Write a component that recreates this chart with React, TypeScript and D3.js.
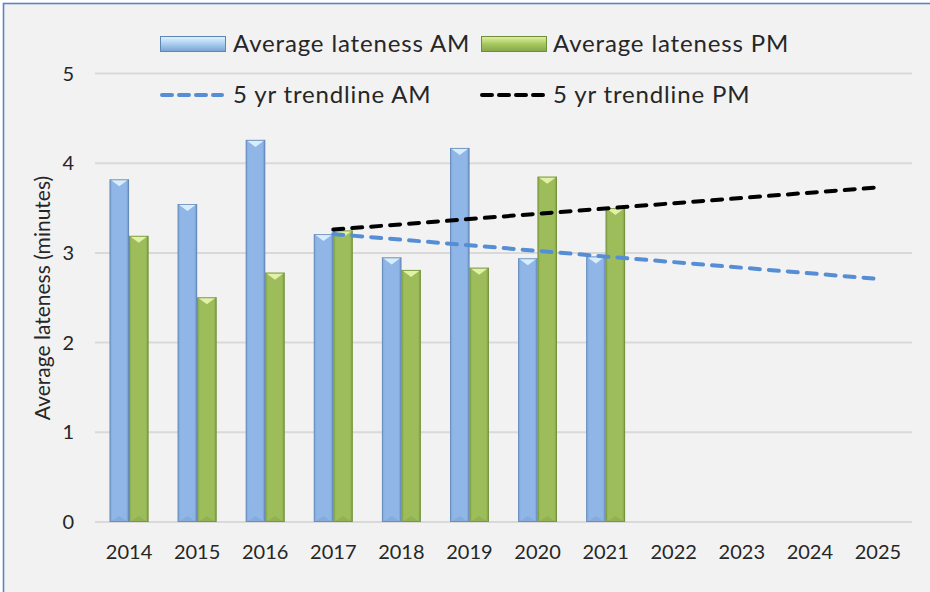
import React from 'react';
import * as d3 from 'd3';

const years = ['2014', '2015', '2016', '2017', '2018', '2019', '2020', '2021', '2022', '2023', '2024', '2025'];
const amValues = [3.82, 3.545, 4.26, 3.21, 2.95, 4.17, 2.94, 2.96];
const pmValues = [3.19, 2.505, 2.78, 3.25, 2.81, 2.835, 3.85, 3.5];
const trendYears = ['2017', '2025'];
const trendAM = [3.21, 2.71];
const trendPM = [3.26, 3.73];
const yTicks = [0, 1, 2, 3, 4, 5];
const seriesNames = ['Average lateness AM', 'Average lateness PM'];
const trendNames = ['5 yr trendline AM', '5 yr trendline PM'];
const yTitle = 'Average lateness (minutes)';

const W = 930;
const H = 592;
const FONT = 'Lato, "Open Sans", sans-serif';
const TEXT = '#262626';
const LEG_SIZE = 24;
const LEG_SPACING = 0.85;

export default function App() {
  const left = 95;
  const right = 912;
  const x0 = d3
    .scaleBand<string>()
    .domain(years)
    .range([left, right])
    .paddingInner(1.5 / 3.5)
    .paddingOuter(0.75 / 3.5);
  const x1 = d3.scaleBand<string>().domain(['AM', 'PM']).range([0, x0.bandwidth()]);
  const y = d3.scaleLinear().domain([0, 5]).range([522, 73.5]);

  const line = d3
    .line<[string, number]>()
    .x((d) => (x0(d[0]) as number) + x0.bandwidth() / 2)
    .y((d) => y(d[1]));

  const bars: { key: string; x: number; v: number; kind: 'AM' | 'PM' }[] = [];
  amValues.forEach((v, i) => bars.push({ key: 'a' + i, x: (x0(years[i]) as number) + (x1('AM') as number), v, kind: 'AM' }));
  pmValues.forEach((v, i) => bars.push({ key: 'p' + i, x: (x0(years[i]) as number) + (x1('PM') as number), v, kind: 'PM' }));
  const bw = x1.bandwidth();

  const renderBar = (b: { key: string; x: number; v: number; kind: 'AM' | 'PM' }) => {
    const top = y(b.v);
    const bottom = y(0);
    const isAM = b.kind === 'AM';
    const tri = isAM ? '#d9eefc' : '#e2f1a8';
    const edge = isAM ? '#5f85b5' : '#6f8c39';
    return (
      <g key={b.key}>
        <rect x={b.x} y={top} width={bw} height={bottom - top} fill={`url(#${isAM ? 'gAM' : 'gPM'})`} />
        <polygon
          points={`${b.x + 1},${top + 0.5} ${b.x + bw - 1},${top + 0.5} ${b.x + bw / 2},${top + 7}`}
          fill={tri}
        />
        <polygon
          points={`${b.x + 1},${bottom} ${b.x + bw - 1},${bottom} ${b.x + bw / 2},${bottom - 6}`}
          fill={isAM ? '#7ea3d2' : '#8aa94d'}
          opacity={0.6}
        />
        <rect x={b.x + 0.5} y={top + 0.5} width={bw - 1} height={bottom - top - 1} fill="none" stroke={edge} strokeWidth={1} opacity={0.7} />
      </g>
    );
  };

  return (
    <svg width={W} height={H} style={{ position: 'absolute', left: 0, top: 0, background: '#fff' }}>
      <defs>
        <linearGradient id="gAM" x1="0" x2="1" y1="0" y2="0">
          <stop offset="0" stopColor="#7ca3d3" />
          <stop offset="0.15" stopColor="#8fb6e6" />
          <stop offset="0.85" stopColor="#8fb6e6" />
          <stop offset="1" stopColor="#6d93c4" />
        </linearGradient>
        <linearGradient id="gPM" x1="0" x2="1" y1="0" y2="0">
          <stop offset="0" stopColor="#8cab50" />
          <stop offset="0.15" stopColor="#9dbd5b" />
          <stop offset="0.85" stopColor="#9dbd5b" />
          <stop offset="1" stopColor="#7f9d45" />
        </linearGradient>
        <linearGradient id="lAM" x1="0" x2="0" y1="0" y2="1">
          <stop offset="0" stopColor="#e3f3fd" />
          <stop offset="0.5" stopColor="#a9cdf0" />
          <stop offset="1" stopColor="#7aa2d2" />
        </linearGradient>
        <linearGradient id="lPM" x1="0" x2="0" y1="0" y2="1">
          <stop offset="0" stopColor="#e2f2a6" />
          <stop offset="0.5" stopColor="#a6c85e" />
          <stop offset="1" stopColor="#86a64a" />
        </linearGradient>
      </defs>
      <rect x={3.5} y={3.5} width={W + 10} height={H + 10} fill="#f2f2f2" stroke="#5a85c2" strokeWidth={1.6} />

      {/* gridlines */}
      {yTicks.map((t) => (
        <line key={t} x1={left} x2={right} y1={y(t)} y2={y(t)} stroke="#d9d9d9" strokeWidth={2} />
      ))}
      {/* y tick labels */}
      {yTicks.map((t) => (
        <text key={'yl' + t} x={74} y={y(t)} dy="0.35em" textAnchor="end" fontFamily={FONT} fontSize={20} fill={TEXT}>
          {t}
        </text>
      ))}
      {/* y title */}
      <text
        transform={`translate(43,${298}) rotate(-90)`}
        textAnchor="middle"
        dy="0.35em"
        fontFamily={FONT}
        fontSize={21}
        fill={TEXT}
      >
        {yTitle}
      </text>
      {/* x labels */}
      {years.map((yr) => (
        <text
          key={'xl' + yr}
          x={(x0(yr) as number) + x0.bandwidth() / 2}
          y={552}
          dy="0.35em"
          textAnchor="middle"
          fontFamily={FONT}
          fontSize={20}
          fill={TEXT}
        >
          {yr}
        </text>
      ))}

      {bars.map(renderBar)}

      {/* trendlines */}
      <path
        d={line(trendYears.map((t, i) => [t, trendAM[i]]) as [string, number][]) as string}
        fill="none"
        stroke="#558ed5"
        strokeWidth={4}
        strokeDasharray="10 9"
        strokeLinecap="round"
      />
      <path
        d={line(trendYears.map((t, i) => [t, trendPM[i]]) as [string, number][]) as string}
        fill="none"
        stroke="#000"
        strokeWidth={4}
        strokeDasharray="10 9"
        strokeLinecap="round"
      />

      {/* legend */}
      <rect x={160.5} y={36.5} width={65} height={15} fill="url(#lAM)" stroke="#5f85b5" strokeWidth={1} />
      <text x={233} y={44} dy="0.35em" fontFamily={FONT} fontSize={LEG_SIZE} letterSpacing={LEG_SPACING} fill={TEXT}>
        {seriesNames[0]}
      </text>
      <rect x={481.5} y={36.5} width={65} height={15} fill="url(#lPM)" stroke="#6f8c39" strokeWidth={1} />
      <text x={553} y={44} dy="0.35em" fontFamily={FONT} fontSize={LEG_SIZE} letterSpacing={LEG_SPACING} fill={TEXT}>
        {seriesNames[1]}
      </text>
      <line x1={162} x2={222} y1={95} y2={95} stroke="#558ed5" strokeWidth={4} strokeDasharray="10 7" strokeLinecap="round" />
      <text x={233} y={95} dy="0.35em" fontFamily={FONT} fontSize={LEG_SIZE} letterSpacing={LEG_SPACING} fill={TEXT}>
        {trendNames[0]}
      </text>
      <line x1={482} x2={544} y1={95} y2={95} stroke="#000" strokeWidth={4} strokeDasharray="10 7" strokeLinecap="round" />
      <text x={553} y={95} dy="0.35em" fontFamily={FONT} fontSize={LEG_SIZE} letterSpacing={LEG_SPACING} fill={TEXT}>
        {trendNames[1]}
      </text>
    </svg>
  );
}
